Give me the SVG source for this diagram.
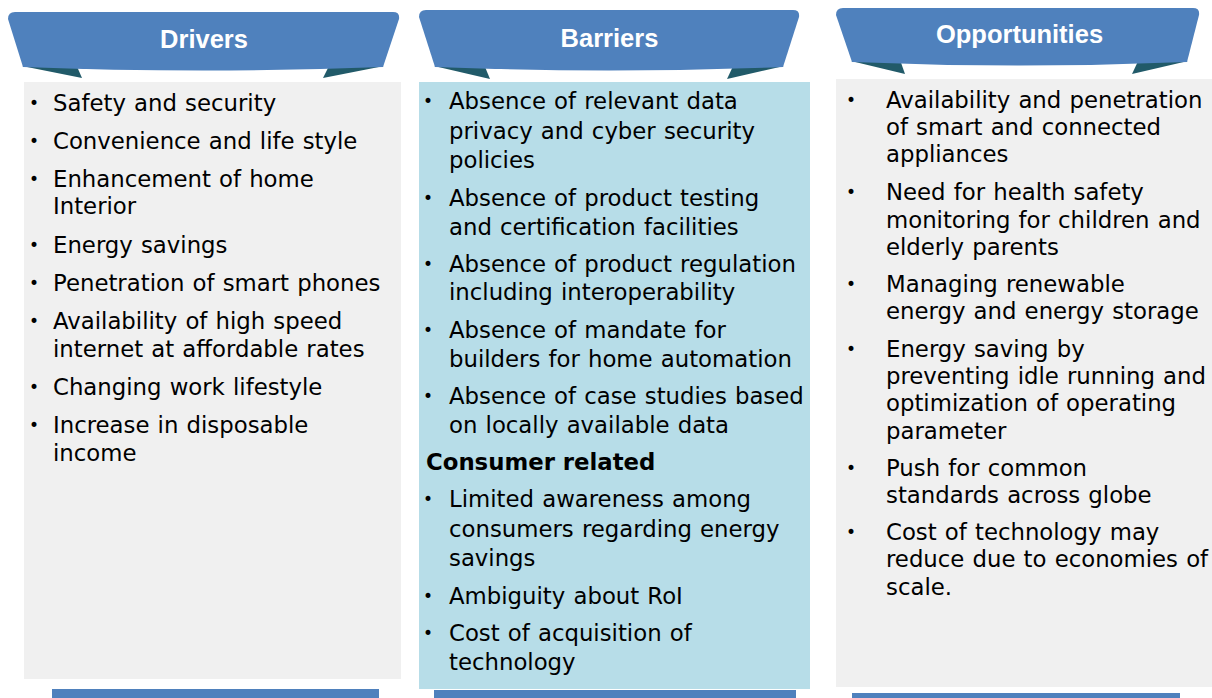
<svg xmlns="http://www.w3.org/2000/svg" width="1212" height="698" viewBox="0 0 1212 698">
<style>
.hdr{fill:#4f81bd}
.fold{fill:#215a69}
.gray{fill:#f0f0f0}
.cyan{fill:#b7dde8}
.bar{fill:#4f81bd}
.title{font-family:"Liberation Sans",Arial,sans-serif;font-weight:bold;font-size:25.5px;fill:#fff;text-anchor:middle}
.t{font-family:"DejaVu Sans",Verdana,sans-serif;font-size:22.8px;fill:#000;word-spacing:0.9px}
.bl{font-family:"DejaVu Sans",Verdana,sans-serif;font-size:17px;fill:#000}
.b{font-family:"DejaVu Sans",Verdana,sans-serif;font-size:22.8px;fill:#000;font-weight:bold}
</style>
<rect width="1212" height="698" fill="#fff"/>
<g id="connectors"/>

<g id="drivers">
  <polygon class="fold" points="22,66 82,78 75,62"/>
  <polygon class="fold" points="384,66 323,78 331,62"/>
  <path class="hdr" d="M8,19 Q8,12 15,12 L393,12 Q400,12 399,19 L383,67 Q204,74 23,67 Z"/>
  <text class="title" x="204" y="48">Drivers</text>
  <rect class="gray" x="24" y="82" width="377" height="597"/>
  <rect class="bar" x="52" y="689" width="327" height="9"/>
  <g class="bl">
    <text x="29" y="109">•</text>
    <text x="29" y="147">•</text>
    <text x="29" y="185">•</text>
    <text x="29" y="251">•</text>
    <text x="29" y="289">•</text>
    <text x="29" y="327">•</text>
    <text x="29" y="393">•</text>
    <text x="29" y="431">•</text>
  </g>
  <g class="t">
    <text x="53" y="111">Safety and security</text>
    <text x="53" y="149">Convenience and life style</text>
    <text x="53" y="187">Enhancement of home</text>
    <text x="53" y="214">Interior</text>
    <text x="53" y="253">Energy savings</text>
    <text x="53" y="291">Penetration of smart phones</text>
    <text x="53" y="329">Availability of high speed</text>
    <text x="53" y="357">internet at affordable rates</text>
    <text x="53" y="395">Changing work lifestyle</text>
    <text x="53" y="433">Increase in disposable</text>
    <text x="53" y="461">income</text>
  </g>
</g>

<g id="barriers">
  <polygon class="fold" points="434,66 490,79 483,62"/>
  <polygon class="fold" points="784,66 727,79 735,62"/>
  <path class="hdr" d="M419,17 Q419,10 426,10 L793,10 Q800,10 799,17 L783,67 Q609,74 435,67 Z"/>
  <text class="title" x="609.5" y="47">Barriers</text>
  <rect class="cyan" x="419" y="82" width="391" height="607"/>
  <rect class="bar" x="434" y="690" width="362" height="8"/>
  <g class="bl">
    <text x="423" y="107">•</text>
    <text x="423" y="204">•</text>
    <text x="423" y="270">•</text>
    <text x="423" y="336">•</text>
    <text x="423" y="402">•</text>
    <text x="423" y="505">•</text>
    <text x="423" y="602">•</text>
    <text x="423" y="639">•</text>
  </g>
  <g class="t">
    <text x="449" y="109">Absence of relevant data</text>
    <text x="449" y="139">privacy and cyber security</text>
    <text x="449" y="168">policies</text>
    <text x="449" y="206">Absence of product testing</text>
    <text x="449" y="235">and certification facilities</text>
    <text x="449" y="272">Absence of product regulation</text>
    <text x="449" y="300">including interoperability</text>
    <text x="449" y="338">Absence of mandate for</text>
    <text x="449" y="367">builders for home automation</text>
    <text x="449" y="404">Absence of case studies based</text>
    <text x="449" y="433">on locally available data</text>
    <text x="449" y="507">Limited awareness among</text>
    <text x="449" y="537">consumers regarding energy</text>
    <text x="449" y="566">savings</text>
    <text x="449" y="604">Ambiguity about RoI</text>
    <text x="449" y="641">Cost of acquisition of</text>
    <text x="449" y="670">technology</text>
  </g>
  <text class="b" x="426" y="470">Consumer related</text>
</g>

<g id="opportunities">
  <polygon class="fold" points="851,61 905,74 899,57"/>
  <polygon class="fold" points="1188,61 1132,74 1140,57"/>
  <path class="hdr" d="M836,15 Q836,8 843,8 L1193,8 Q1200,8 1199,15 L1187,62 Q1019,69 852,62 Z"/>
  <text class="title" x="1019.5" y="43">Opportunities</text>
  <rect class="gray" x="836" y="79" width="376" height="608"/>
  <rect class="bar" x="852" y="693" width="328" height="5"/>
  <g class="bl">
    <text x="846" y="106">•</text>
    <text x="846" y="198">•</text>
    <text x="846" y="290">•</text>
    <text x="846" y="355">•</text>
    <text x="846" y="474">•</text>
    <text x="846" y="538">•</text>
  </g>
  <g class="t">
    <text x="886" y="108">Availability and penetration</text>
    <text x="886" y="135">of smart and connected</text>
    <text x="886" y="162">appliances</text>
    <text x="886" y="200">Need for health safety</text>
    <text x="886" y="228">monitoring for children and</text>
    <text x="886" y="255">elderly parents</text>
    <text x="886" y="292">Managing renewable</text>
    <text x="886" y="319">energy and energy storage</text>
    <text x="886" y="357">Energy saving by</text>
    <text x="886" y="384">preventing idle running and</text>
    <text x="886" y="411">optimization of operating</text>
    <text x="886" y="439">parameter</text>
    <text x="886" y="476">Push for common</text>
    <text x="886" y="503">standards across globe</text>
    <text x="886" y="540">Cost of technology may</text>
    <text x="886" y="567">reduce due to economies of</text>
    <text x="886" y="595">scale.</text>
  </g>
</g>
</svg>
